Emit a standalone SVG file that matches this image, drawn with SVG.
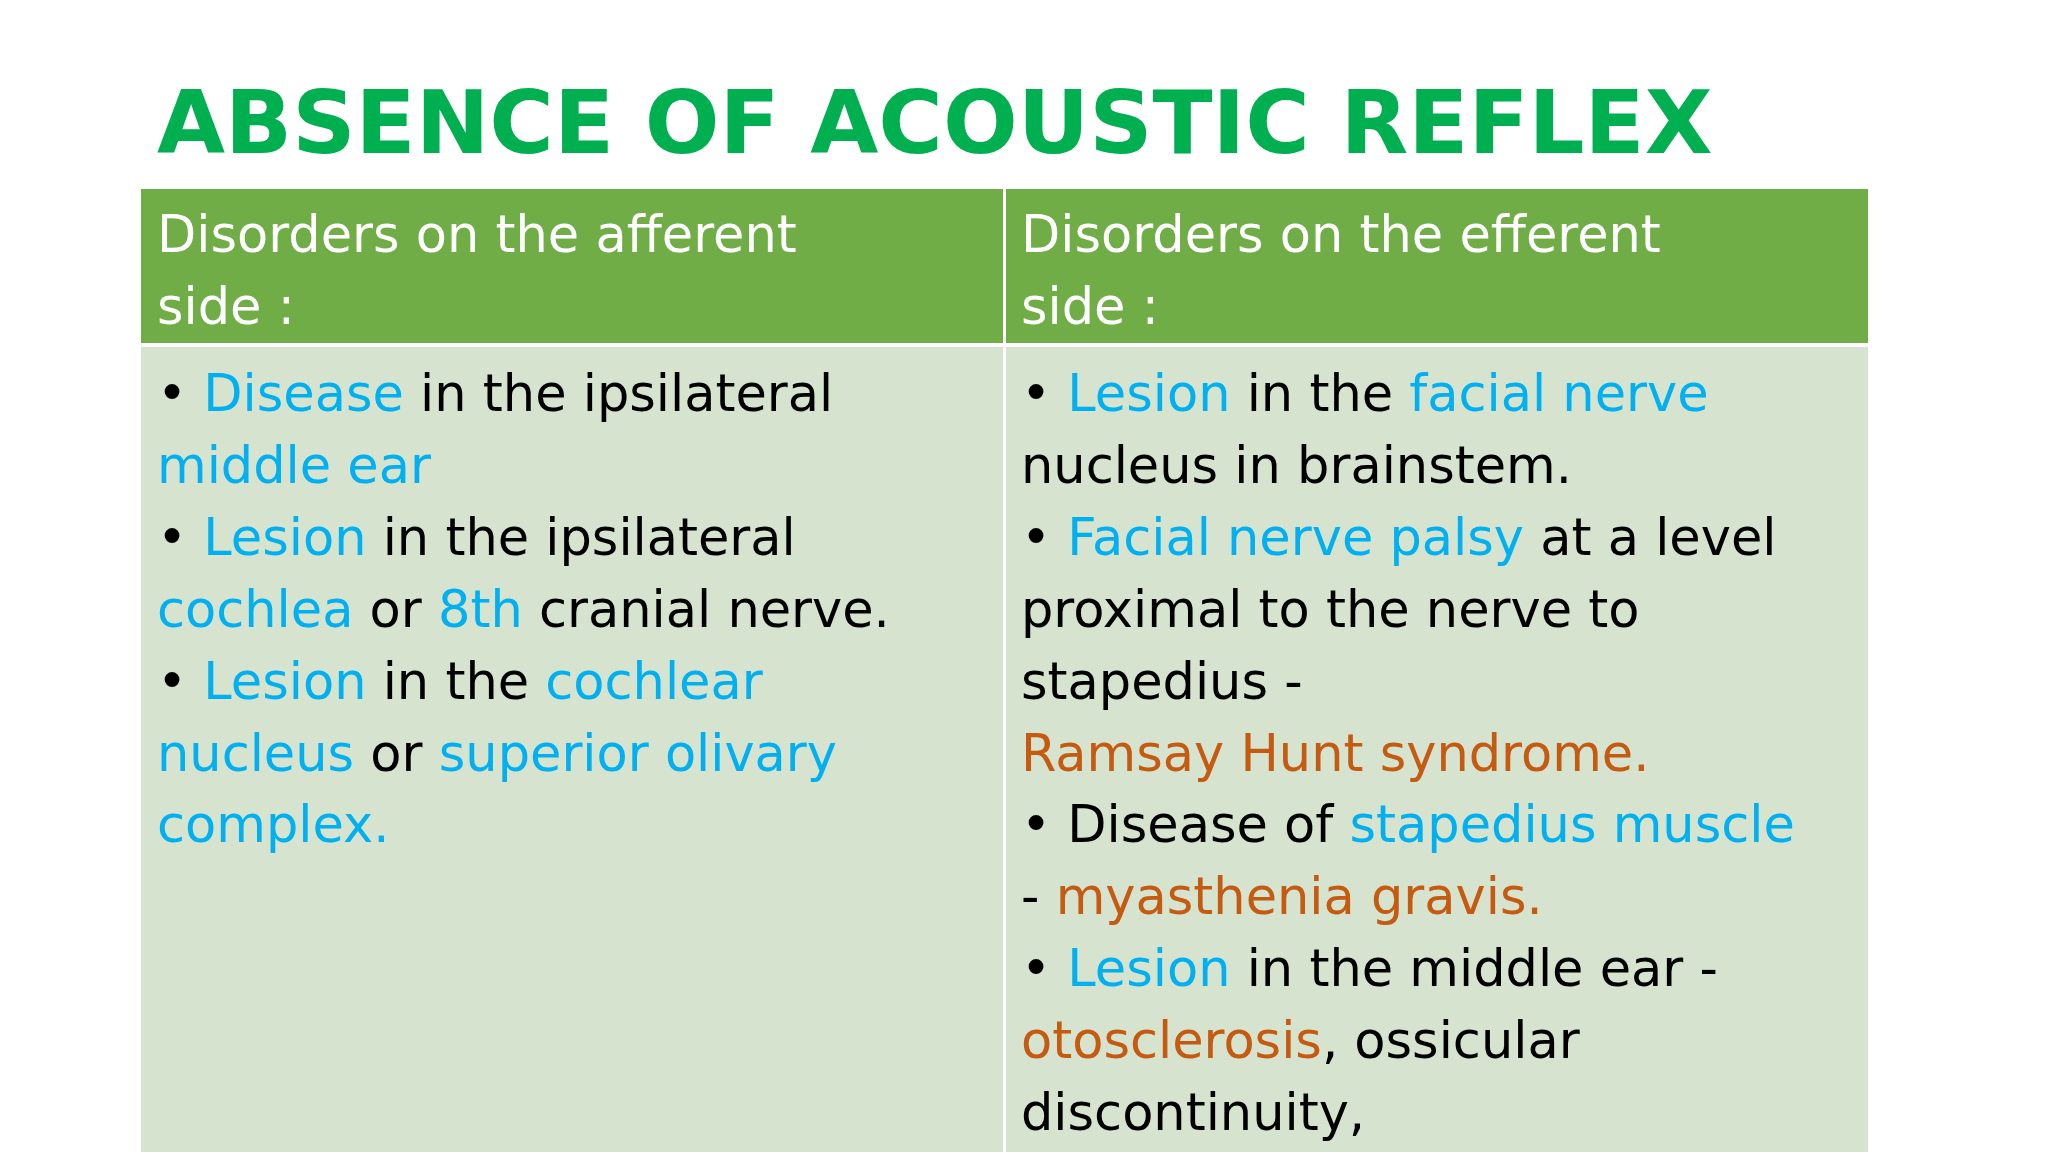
<svg xmlns="http://www.w3.org/2000/svg" width="2048" height="1152" viewBox="0 0 2048 1152">
<style>
.t{font-family:"DejaVu Sans",Verdana,sans-serif;font-size:51px;fill:#000}
.h{fill:#fff}
.b{fill:#00B0F0}
.o{fill:#C55A11}
</style>
<rect width="2048" height="1152" fill="#fff"/>
<text x="157" y="153" font-family="DejaVu Sans,sans-serif" font-weight="bold" font-size="88" fill="#00B050">ABSENCE OF ACOUSTIC REFLEX</text>
<g id="header-left"><rect x="141" y="189" width="862" height="154" fill="#70AD47"/>
<text class="t h" x="157" y="252">Disorders on the afferent</text><text class="t h" x="157" y="324">side :</text></g>
<g id="header-right"><rect x="1006" y="189" width="862" height="154" fill="#70AD47"/>
<text class="t h" x="1021" y="252">Disorders on the efferent</text><text class="t h" x="1021" y="324">side :</text></g>
<g id="body-left"><rect x="141" y="347" width="862" height="805" fill="#D5E3CF"/>
<text class="t" x="157" y="411">• <tspan class="b">Disease</tspan> in the ipsilateral</text>
<text class="t b" x="157" y="483">middle ear</text>
<text class="t" x="157" y="555">• <tspan class="b">Lesion</tspan> in the ipsilateral</text>
<text class="t" x="157" y="627"><tspan class="b">cochlea</tspan> or <tspan class="b">8th</tspan> cranial nerve.</text>
<text class="t" x="157" y="699">• <tspan class="b">Lesion</tspan> in the <tspan class="b">cochlear</tspan></text>
<text class="t" x="157" y="771"><tspan class="b">nucleus</tspan> or <tspan class="b">superior olivary</tspan></text>
<text class="t b" x="157" y="842">complex.</text></g>
<g id="body-right"><rect x="1006" y="347" width="862" height="805" fill="#D5E3CF"/>
<text class="t" x="1021" y="411">• <tspan class="b">Lesion</tspan> in the <tspan class="b">facial nerve</tspan></text>
<text class="t" x="1021" y="483">nucleus in brainstem.</text>
<text class="t" x="1021" y="555">• <tspan class="b">Facial nerve palsy</tspan> at a level</text>
<text class="t" x="1021" y="627">proximal to the nerve to</text>
<text class="t" x="1021" y="699">stapedius -</text>
<text class="t o" x="1021" y="771">Ramsay Hunt syndrome.</text>
<text class="t" x="1021" y="842">• Disease of <tspan class="b">stapedius muscle</tspan></text>
<text class="t" x="1021" y="914">- <tspan class="o">myasthenia gravis.</tspan></text>
<text class="t" x="1021" y="986">• <tspan class="b">Lesion</tspan> in the middle ear -</text>
<text class="t" x="1021" y="1058"><tspan class="o">otosclerosis</tspan>, ossicular</text>
<text class="t" x="1021" y="1130">discontinuity,</text></g>
</svg>
